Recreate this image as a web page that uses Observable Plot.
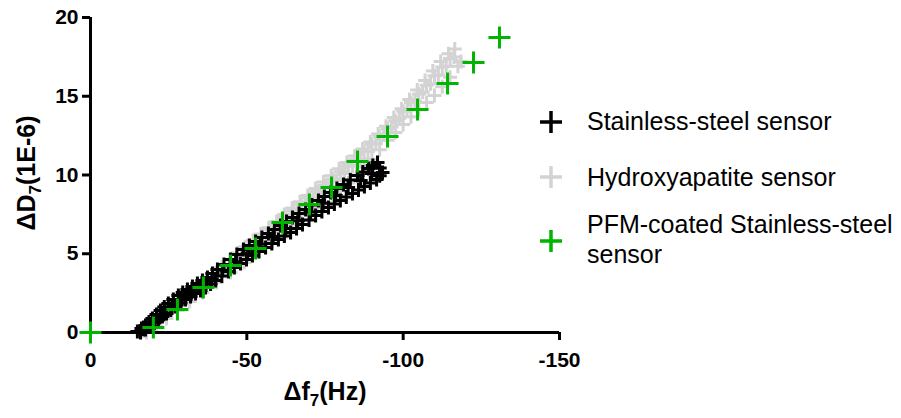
<!DOCTYPE html>
<html><head><meta charset="utf-8">
<script src="https://cdn.jsdelivr.net/npm/d3@7"></script>
<script src="https://cdn.jsdelivr.net/npm/@observablehq/plot@0.6"></script>
<style>
body{margin:0;background:#fff;}
#wrap{position:relative;width:901px;height:418px;font-family:"Liberation Sans",Arial,sans-serif;}
#wrap svg.over{position:absolute;left:0;top:0;}
</style></head><body><div id="wrap"></div>
<script>
// Stainless-steel sensor (Δf7 in Hz, ΔD7 in 1E-6)
const steelF = [
 -15.0,-17.6,-19.8,-22.4,-24.9,-28.1,-31.0,-34.2,-37.4,-40.6,-44.8,-48.9,-52.8,-56.9,-60.8,-64.6,-68.8,-72.9,-76.8,-80.9,-85.4,-88.9,-91.8,
 -16.3,-18.7,-21.1,-23.6,-26.5,-29.5,-32.6,-35.8,-39.0,-42.7,-46.8,-50.8,-54.8,-58.8,-62.7,-66.7,-70.8,-74.8,-78.8,-83.1,-87.1,-90.3,
 -17.0,-20.5,-23.3,-26.0,-29.3,-32.4,-35.5,-38.8,-42.3,-46.4,-50.3,-54.3,-58.4,-62.4,-66.3,-70.4,-74.4,-78.4,-82.4,-86.4,-89.9,-92.5,
 -17.6,-20.4,-23.0,-25.7,-28.8,-32.0,-35.2,-38.4,-42.0,-46.0,-49.9,-53.9,-58.0,-62.0,-65.9,-69.9,-74.0,-78.0,-81.8,-85.7,-89.5,-92.5,
 -16.0,-19.2,-21.7,-24.3,-27.2,-30.4,-33.6,-36.8,-40.0,-44.1,-48.0,-51.8,-56.0,-60.1,-64.0,-67.8,-72.0,-76.1,-79.9,-83.8,-87.6,-91.5,-93.4
];
const steelD = [
 0.06,0.44,0.89,1.40,1.84,2.35,2.73,3.11,3.49,4.00,4.63,5.27,5.78,6.29,6.79,7.30,7.81,8.38,8.89,9.40,9.97,10.41,10.79,
 0.25,0.66,1.15,1.62,2.10,2.54,2.92,3.30,3.75,4.32,4.95,5.52,6.03,6.54,7.05,7.55,8.10,8.63,9.15,9.68,10.19,10.60,
 0.20,0.70,1.15,1.60,2.10,2.55,2.95,3.40,3.95,4.50,5.05,5.60,6.10,6.60,7.10,7.65,8.20,8.70,9.20,9.65,10.10,10.45,
 0.19,0.60,1.02,1.43,1.88,2.29,2.67,3.08,3.58,4.12,4.63,5.14,5.65,6.12,6.60,7.15,7.68,8.16,8.60,9.05,9.49,9.95,
 0.00,0.38,0.83,1.21,1.65,2.10,2.48,2.86,3.30,3.87,4.38,4.89,5.40,5.90,6.35,6.86,7.43,7.94,8.38,8.83,9.27,9.71,10.16
];
// Hydroxyapatite sensor
const hapF = [
 -17.0,-19.5,-22.0,-24.5,-27.0,-29.5,-32.0,-34.5,-37.0,-39.5,-42.0,-44.5,-47.0,-49.5,-52.0,-54.5,-57.0,-59.5,-62.0,-64.5,-67.0,-69.5,-72.0,-74.5,-77.0,-79.5,-82.0,-84.5,-87.0,-89.5,-92.0,-94.5,-97.0,-99.5,-102.0,-104.5,-107.0,-109.5,-112.0,-114.5,-116.5,
 -55.0,-57.5,-60.0,-62.5,-65.0,-67.5,-70.0,-72.5,-75.0,-77.5,-80.0,-82.5,-85.0,-87.5,-90.0,-92.5,-95.0,-97.5,-100.0,-102.5,-105.0,-107.5,-110.0,-112.5,-115.0,
 -56.25,-58.75,-61.25,-63.75,-66.25,-68.75,-71.25,-73.75,-76.25,-78.75,-81.25,-83.75,-86.25,-88.75,-91.25,-93.75,-96.25,-98.75,-101.25,-103.75,-106.25,-108.75,-111.25,-113.75,-116.25,
 -17.9,-21.1,-24.3,-27.8,-31.7,-35.8,-40.3,-44.8,-49.2,-53.7,-58.2,-60.0,-62.5,-65.0,-67.5,-70.0,-72.5,-75.0,-77.5,-80.0,-82.5,-85.0,-87.5,-90.0,-92.5,-95.0,-97.5,-100.0,-102.5,-105.0,-107.5,-110.0,-112.5,-115.0,-117.5,-118.5
];
const hapD = [
 0.10,0.50,0.95,1.35,1.75,2.15,2.55,2.95,3.35,3.75,4.15,4.60,5.05,5.45,5.85,6.25,6.65,7.05,7.50,7.90,8.30,8.70,9.15,9.55,9.95,10.40,10.80,11.20,11.65,12.10,12.60,13.10,13.65,14.20,14.80,15.40,16.00,16.60,17.20,17.70,18.00,
 6.15,6.55,6.95,7.35,7.75,8.15,8.55,8.95,9.35,9.75,10.20,10.60,11.00,11.50,11.95,12.45,12.95,13.45,14.05,14.60,15.15,15.70,16.30,16.85,17.40,
 6.10,6.45,6.85,7.25,7.65,8.05,8.45,8.85,9.25,9.65,10.10,10.55,11.00,11.50,12.00,12.55,13.05,13.60,14.15,14.70,15.25,15.80,16.35,16.90,17.50,
 0.00,0.38,0.89,1.40,1.97,2.54,3.17,3.81,4.44,5.14,5.78,6.00,6.40,6.75,7.15,7.50,7.90,8.25,8.60,9.00,9.50,10.00,10.50,11.00,11.60,12.20,12.70,13.20,13.70,14.15,14.60,15.05,15.60,16.20,16.90,17.20
];
// PFM-coated Stainless-steel sensor
const pfmF = [0,-20.1,-27.8,-36.1,-44.8,-52.8,-61.4,-70.0,-77.1,-85.4,-95.0,-104.6,-114.2,-122.5,-130.8];
const pfmD = [0,0.32,1.46,2.86,4.25,5.33,6.98,8.13,9.21,10.86,12.44,14.16,15.81,17.14,18.73];

const seriesNames = ["Stainless-steel sensor","Hydroxyapatite sensor","PFM-coated Stainless-steel sensor"];
const seriesColors = ["#000000","#d3d3d3","#00b400"];
const xTicks = [0,-50,-100,-150];
const yTicks = [0,5,10,15,20];
const xTitle = "Δf";
const yTitle = "ΔD";
const subscript = "7";

const toRows = (F, D) => F.map((f, i) => ({f, D: D[i]}));
const steel = toRows(steelF, steelD);
const hap = toRows(hapF, hapD);
const pfm = toRows(pfmF, pfmD);

const plusSymbol = {
  draw(ctx, size) {
    const r = Math.sqrt(size / Math.PI);
    ctx.moveTo(-r, 0); ctx.lineTo(r, 0);
    ctx.moveTo(0, -r); ctx.lineTo(0, r);
  }
};

const chart = Plot.plot({
  width: 901, height: 418,
  marginLeft: 90, marginRight: 342, marginTop: 17, marginBottom: 86,
  x: {domain: [0, -150], label: null},
  y: {domain: [0, 20], label: null},
  style: {fontFamily: "'Liberation Sans', Arial, sans-serif", fontSize: "21px", fontWeight: "bold", color: "#000", background: "transparent"},
  marks: [
    Plot.dot(hap, {x: "f", y: "D", symbol: plusSymbol, r: 7, stroke: seriesColors[1], strokeWidth: 3, fill: "none"}),
    Plot.dot(steel, {x: "f", y: "D", symbol: plusSymbol, r: 7, stroke: seriesColors[0], strokeWidth: 3, fill: "none"}),
    Plot.ruleY([0], {stroke: "#000", strokeWidth: 3}),
    Plot.ruleX([0], {stroke: "#000", strokeWidth: 3}),
    Plot.axisX({ticks: xTicks, tickSize: 8, tickPadding: 12, strokeWidth: 3, tickFormat: d => String(d), label: null}),
    Plot.axisY({ticks: yTicks, tickSize: 8, tickPadding: 4, strokeWidth: 3, tickFormat: d => String(d), label: null}),
    Plot.dot(pfm, {x: "f", y: "D", symbol: plusSymbol, r: 11, stroke: seriesColors[2], strokeWidth: 3, fill: "none"})
  ]
});
const wrap = document.getElementById("wrap");
wrap.appendChild(chart);

// overlay: axis titles and legend
const over = d3.select(wrap).append("svg").attr("class", "over")
  .attr("width", 901).attr("height", 418)
  .style("font-family", "'Liberation Sans', Arial, sans-serif");

const xt = over.append("text").attr("x", 325).attr("y", 400).attr("text-anchor", "middle")
  .attr("font-size", 25).attr("font-weight", "bold").attr("fill", "#000");
xt.append("tspan").text(xTitle);
xt.append("tspan").attr("dy", 6).attr("font-size", 17).text(subscript);
xt.append("tspan").attr("dy", -6).text("(Hz)");

const yt = over.append("text").attr("transform", "translate(35,173) rotate(-90)").attr("text-anchor", "middle")
  .attr("font-size", 25).attr("font-weight", "bold").attr("fill", "#000");
yt.append("tspan").text(yTitle);
yt.append("tspan").attr("dy", 6).attr("font-size", 17).text(subscript);
yt.append("tspan").attr("dy", -6).text("(1E-6)");

const legendRows = [
  {sy: 122, lines: [seriesNames[0]], base: [130]},
  {sy: 177, lines: [seriesNames[1]], base: [186]},
  {sy: 241, lines: ["PFM-coated Stainless-steel", "sensor"], base: [233, 263]}
];
legendRows.forEach((row, i) => {
  const cx = 551, r = 11;
  over.append("path").attr("d", `M${cx - r},${row.sy}H${cx + r}M${cx},${row.sy - r}V${row.sy + r}`)
    .attr("stroke", seriesColors[i]).attr("stroke-width", 3.5).attr("fill", "none");
  row.lines.forEach((t, j) => {
    over.append("text").attr("x", 587).attr("y", row.base[j]).attr("font-size", 25)
      .attr("fill", "#000").text(t);
  });
});
</script>
</body></html>
